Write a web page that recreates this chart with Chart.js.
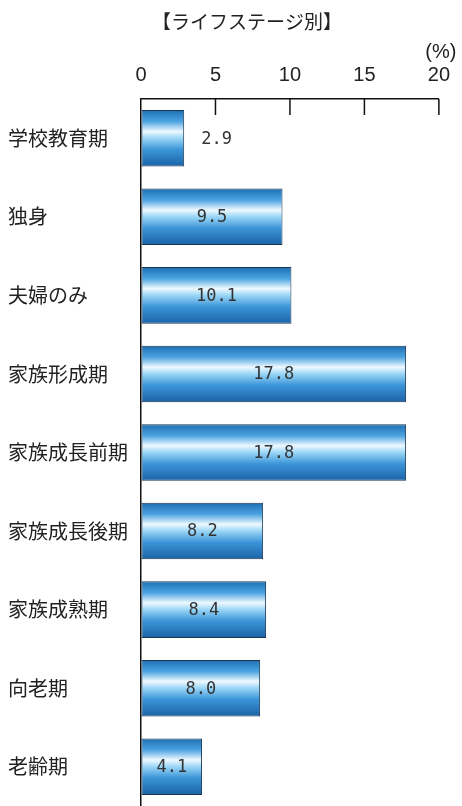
<!DOCTYPE html>
<html><head><meta charset="utf-8">
<script src="https://cdn.jsdelivr.net/npm/chart.js@4/dist/chart.umd.min.js"></script>
<style>html,body{margin:0;padding:0;background:#fff}#wrap{width:462px;height:806px;position:relative}</style>
</head><body><div id="wrap"><canvas id="c" width="462" height="806"></canvas></div>
<script>
const categories = ["学校教育期","独身","夫婦のみ","家族形成期","家族成長前期","家族成長後期","家族成熟期","向老期","老齢期"];
const values = [2.9, 9.5, 10.1, 17.8, 17.8, 8.2, 8.4, 8.0, 4.1];
const xTicks = [0, 5, 10, 15, 20];
const titleText = "【ライフステージ別】";
const unitText = "(%)";

const BAR_PCT = 0.72;
function barGradient(ctx){
  const chart = ctx.chart; const ys = chart.scales.y; const area = chart.chartArea;
  if(!ys || !area) return '#3a90d0';
  const yc = ys.getPixelForValue(ctx.dataIndex);
  const h = (area.bottom-area.top)/categories.length*BAR_PCT;
  const g = chart.ctx.createLinearGradient(0, yc-h/2, 0, yc+h/2);
  g.addColorStop(0,'#1d6fb3');
  g.addColorStop(0.20,'#4aa2e0');
  g.addColorStop(0.38,'#eef9ff');
  g.addColorStop(0.50,'#9ad6f6');
  g.addColorStop(0.70,'#3c95d8');
  g.addColorStop(1,'#1a62a6');
  return g;
}

const decor = {
  id:'decor',
  afterDraw(chart){
    const c = chart.ctx, xs = chart.scales.x, area = chart.chartArea;
    c.save();
    c.strokeStyle='#111'; c.lineWidth=1.5;
    xTicks.forEach(v=>{ if(v===0) return; const x = xs.getPixelForValue(v); c.beginPath(); c.moveTo(x, area.top); c.lineTo(x, area.top+16); c.stroke(); });
    c.fillStyle='#222'; c.font='19px "Noto Sans CJK JP"'; c.textAlign='center'; c.textBaseline='middle';
    c.fillText(titleText, 247, 22);
    c.font='20px "Liberation Sans"'; c.fillText(unitText, xs.getPixelForValue(20)+2, 52);
    const meta = chart.getDatasetMeta(0);
    c.font='17px "DejaVu Sans Mono"'; c.fillStyle='#333'; c.textBaseline='middle';
    meta.data.forEach((el,i)=>{
      const txt = values[i].toFixed(1);
      const w = el.x - el.base;
      if (w > 50) { c.textAlign='center'; c.fillText(txt, (el.x+el.base)/2, el.y+1); }
      else { c.textAlign='left'; c.fillText(txt, el.x+17, el.y+1); }
    });
    c.restore();
  }
};

new Chart(document.getElementById('c'), {
  type:'bar',
  data:{ labels:categories, datasets:[{ data:values, backgroundColor:barGradient, borderColor:'#1b3550', borderWidth:1, borderSkipped:false, barPercentage:BAR_PCT, categoryPercentage:1 }]},
  options:{
    indexAxis:'y', responsive:false, animation:false,
    layout:{ padding:{ top:0, right:22, bottom:0, left:8 } },
    plugins:{ legend:{display:false}, tooltip:{enabled:false}, title:{display:false} },
    scales:{
      x:{ position:'top', min:0, max:20, afterBuildTicks(s){ s.ticks = xTicks.map(v=>({value:v})); },
        grid:{ drawOnChartArea:false, drawTicks:false },
        border:{ display:true, color:'#111', width:1.5 },
        ticks:{ padding:12, color:'#222', font:{ family:'Liberation Sans', size:20 } },
        afterFit(s){ s.height = 99; }
      },
      y:{ grid:{ display:false, drawTicks:false }, border:{ display:true, color:'#111', width:1.5 },
        ticks:{ crossAlign:'far', padding:4, color:'#222', font:{ family:'"Noto Sans CJK JP"', size:20 } },
        afterFit(s){ s.width = 133; s.paddingTop = 0; s.paddingBottom = 0; }
      }
    }
  },
  plugins:[decor]
});
</script></body></html>
